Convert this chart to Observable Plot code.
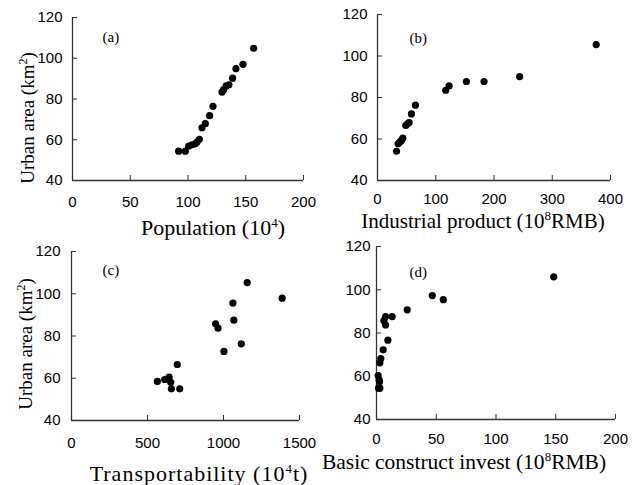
<!DOCTYPE html>
<html>
<head>
<meta charset="utf-8">
<script src="https://cdn.jsdelivr.net/npm/d3@7"></script>
<script src="https://cdn.jsdelivr.net/npm/@observablehq/plot@0.6"></script>
<style>
  html, body { margin: 0; padding: 0; background: #fff; }
  #wrap { position: relative; width: 637px; height: 485px; overflow: hidden; background: #fff; }
  .panel { position: absolute; }
  .ttl { position: absolute; font-family: "Liberation Serif", "Times New Roman", serif; font-size: 22px; line-height: 1; white-space: nowrap; color: #000; }
  .ttl sup { font-size: 13px; vertical-align: 8px; line-height: 0; }
  .ytl { font-size: 19px; }
  .ytl sup { font-size: 12px; vertical-align: 7px; }
  .rot { transform: translate(-50%, -50%) rotate(-90deg); }
  .hc { transform: translateX(-50%); }
</style>
</head>
<body>
<div id="wrap"></div>
<script>
// ---- data ----
const yTicks = [40, 60, 80, 100, 120];

const popX = [91.9, 97.7, 100.6, 103.5, 106.3, 107.8, 109.8, 112.1, 115.0, 118.7, 121.6, 129.4, 130.8, 133.1, 135.4, 138.6, 141.5, 147.6, 156.8];
const popY = [54.4, 54.4, 56.9, 57.5, 58.0, 58.9, 60.2, 65.9, 67.9, 71.8, 76.4, 83.4, 84.6, 86.4, 87.0, 90.2, 94.9, 97.0, 104.9];
const popTicks = [0, 50, 100, 150, 200];

const indX = [32.6, 35.4, 38.3, 41.1, 43.4, 48.6, 51.4, 54.3, 58.3, 65.1, 117.1, 122.9, 152.6, 182.9, 244, 375.4];
const indY = [54.1, 57.7, 58.5, 59.3, 60.4, 66.5, 67.3, 67.9, 72.1, 76.3, 83.5, 85.6, 87.7, 87.7, 90.1, 105.5];
const indTicks = [0, 100, 200, 300, 400];

const trX = [565, 613, 642, 653, 657, 712, 696, 948, 964, 1003, 1062, 1068, 1117, 1156, 1386];
const trY = [58.5, 59.4, 60.5, 58.1, 55.0, 55.0, 66.5, 85.8, 83.7, 72.7, 95.6, 87.5, 76.3, 105.3, 97.9];
const trTicks = [0, 500, 1000, 1500];

const invX = [1.4, 2.2, 2.5, 1.7, 2.8, 2.8, 3.6, 5.6, 9.5, 7.6, 6.2, 7.6, 13.1, 25.7, 46.7, 55.9, 148.3];
const invY = [60.3, 58.3, 57.4, 54.5, 54.5, 66.2, 68.2, 72.2, 76.7, 83.7, 85.7, 87.6, 87.6, 90.7, 97.3, 95.4, 106.0];
const invTicks = [0, 50, 100, 150, 200];

const panelLabels = ["(a)", "(b)", "(c)", "(d)"];

// ---- layout ----
const panels = [
  {xs: popX, ys: popY, ticks: popTicks, label: panelLabels[0], left: 0, top: 0, width: 318, height: 215,
   mL: 72, mR: 15, mT: 17, mB: 35, xPad: 21, yPad: 15, ldx: 30, ldy: 20},
  {xs: indX, ys: indY, ticks: indTicks, label: panelLabels[1], left: 317, top: 0, width: 320, height: 215,
   mL: 60, mR: 27, mT: 14, mB: 35, xPad: 18, yPad: 15, ldx: 32, ldy: 24},
  {xs: trX, ys: trY, ticks: trTicks, label: panelLabels[2], left: 0, top: 240, width: 318, height: 245,
   mL: 71, mR: 19, mT: 11, mB: 65, xPad: 22, yPad: 16, ldx: 31, ldy: 19},
  {xs: invX, ys: invY, ticks: invTicks, label: panelLabels[3], left: 317, top: 240, width: 320, height: 245,
   mL: 59, mR: 22, mT: 6, mB: 66, xPad: 19, yPad: 11, ldx: 33, ldy: 26}
];

const wrap = document.getElementById("wrap");
const axisColor = "#333";

for (const p of panels) {
  const pts = d3.zip(p.xs, p.ys);
  const xMax = p.ticks[p.ticks.length - 1];
  const chart = Plot.plot({
    width: p.width, height: p.height,
    marginLeft: p.mL, marginRight: p.mR, marginTop: p.mT, marginBottom: p.mB,
    x: {domain: [0, xMax]},
    y: {domain: [yTicks[0], yTicks[yTicks.length - 1]]},
    style: {fontFamily: "'Liberation Sans', Arial, sans-serif", fontSize: "15px", color: "#000", background: "transparent", overflow: "visible"},
    marks: [
      Plot.axisX({ticks: p.ticks, tickSize: -5, tickPadding: p.xPad, tickFormat: d => String(d), label: null, stroke: axisColor, fill: "#000"}),
      Plot.axisY({ticks: yTicks, tickSize: -5, tickPadding: p.yPad, tickFormat: d => String(d), label: null, stroke: axisColor, fill: "#000"}),
      Plot.ruleX([0], {stroke: axisColor, strokeWidth: 1.3}),
      Plot.ruleY([yTicks[0]], {stroke: axisColor, strokeWidth: 1.3}),
      Plot.dot(pts, {x: d => d[0], y: d => d[1], r: 3.6, fill: "#000", stroke: "none"}),
      Plot.text([p.label], {frameAnchor: "top-left", dx: p.ldx, dy: p.ldy, textAnchor: "start", lineAnchor: "middle",
        fontFamily: "'Liberation Serif', 'Times New Roman', serif", fontSize: 15, fill: "#000"})
    ]
  });
  chart.classList.add("panel");
  chart.style.left = p.left + "px";
  chart.style.top = p.top + "px";
  wrap.appendChild(chart);
}

// ---- axis titles (HTML, for superscripts) ----
const titles = [
  {html: "Population (10<sup>4</sup>)", x: 213, y: 217, cls: "hc", ls: 0, fs: 22},
  {html: "Industrial product (10<sup>8</sup>RMB)", x: 483, y: 211, cls: "hc", ls: 0, fs: 21},
  {html: "Transportability (10<sup>4</sup>t)", x: 199, y: 463, cls: "hc", ls: 1, fs: 22},
  {html: "Basic construct invest (10<sup>8</sup>RMB)", x: 464, y: 452, cls: "hc", ls: 0, fs: 21.5},
  {html: "Urban area (km<sup>2</sup>)", x: 27, y: 118, cls: "rot ytl", ls: 0, fs: 19},
  {html: "Urban area (km<sup>2</sup>)", x: 25, y: 344, cls: "rot ytl", ls: 0, fs: 19}
];
for (const t of titles) {
  const d = document.createElement("div");
  d.className = "ttl " + t.cls;
  d.innerHTML = t.html;
  d.style.left = t.x + "px";
  d.style.top = t.y + "px";
  d.style.fontSize = t.fs + "px";
  d.style.letterSpacing = t.ls + "px";
  wrap.appendChild(d);
}
</script>
</body>
</html>
